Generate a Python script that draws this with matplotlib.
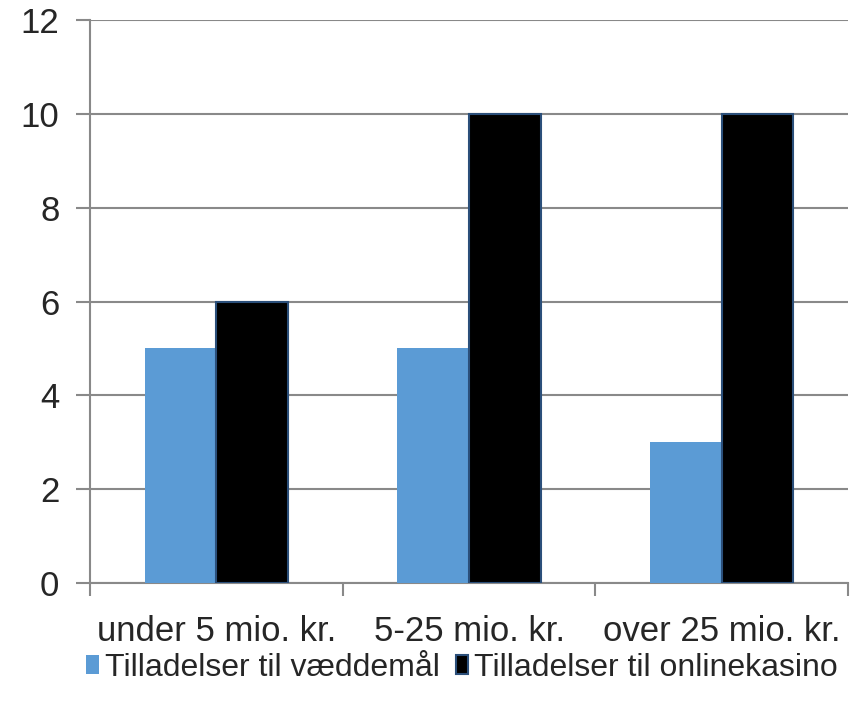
import numpy as np
import matplotlib.pyplot as plt

plt.rcParams['font.family'] = ['Liberation Sans', 'DejaVu Sans']

# data
categories = ['under 5 mio. kr.', '5-25 mio. kr.', 'over 25 mio. kr.']
vaeddemaal = [5, 5, 3]
onlinekasino = [6, 10, 10]
series_names = ['Tilladelser til væddemål', 'Tilladelser til onlinekasino']

fig = plt.figure(figsize=(8.51, 7.11), dpi=100)
ax = fig.add_axes([90 / 851, 1 - 583 / 711, 758 / 851, 563 / 711])

x = np.arange(len(categories))
w = 0.283
ax.bar(x - w / 2, vaeddemaal, w, color='#5B9BD5', label=series_names[0], zorder=3)
ax.bar(x + w / 2, onlinekasino, w, color='black', edgecolor='#2B4F7A', linewidth=1.5,
       label=series_names[1], zorder=3)

ax.set_xlim(-0.5, 2.5)
ax.set_ylim(0, 12)
ax.set_yticks(range(0, 13, 2))
ax.yaxis.grid(True, color='#898989', linewidth=1.5, zorder=0)

# category labels between tick marks
ax.set_xticks([-0.5, 0.5, 1.5, 2.5])
ax.set_xticklabels([])
ax.set_xticks(x, minor=True)
ax.set_xticklabels(categories, minor=True, fontsize=25, color='#262626')
ax.tick_params(axis='x', which='minor', length=0, pad=23)
ax.tick_params(axis='x', which='major', length=9, width=1.5, color='#898989')
ax.tick_params(axis='y', length=10, width=1.5, color='#898989', labelsize=25,
               labelcolor='#262626', pad=12)

for s in ['top', 'right']:
    ax.spines[s].set_visible(False)
for s in ['left', 'bottom']:
    ax.spines[s].set_color('#898989')
    ax.spines[s].set_linewidth(1.5)

leg = fig.legend(loc='center', bbox_to_anchor=(462 / 851, 1 - 668 / 711), ncol=2,
                 frameon=False, fontsize=23, borderpad=0, borderaxespad=0,
                 handlelength=0.4, handleheight=0.55, handletextpad=0.18,
                 columnspacing=0.5, labelcolor='#262626')

fig.savefig('out.png', dpi=100)
